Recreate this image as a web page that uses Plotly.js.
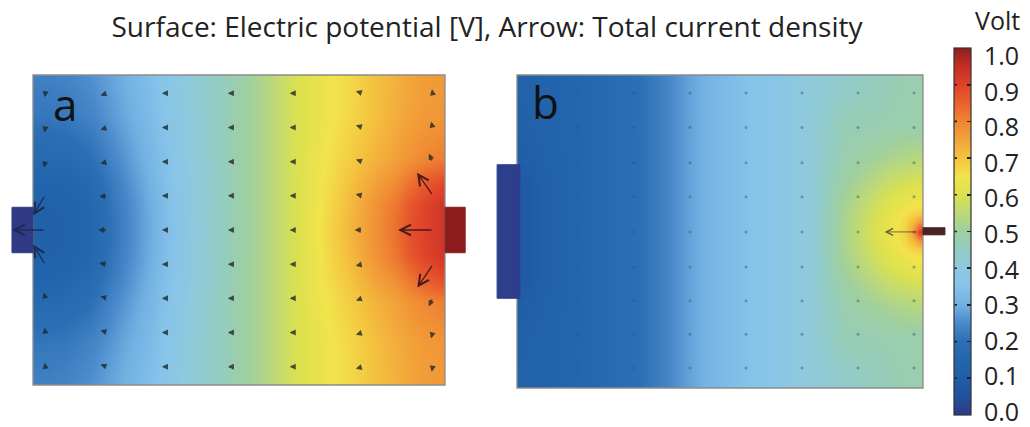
<!DOCTYPE html>
<html><head><meta charset="utf-8">
<script src="https://cdn.plot.ly/plotly-3.0.1.min.js"></script>
<style>html,body{margin:0;padding:0;background:#fff;} #chart{width:1030px;height:427px;}</style>
</head><body><div id="chart"></div>
<script>
// ---------- DATA ----------
// Panel a: electric potential [V] read on a grid (x: 0..100, y: 0..75, arbitrary length units)
const potA_x = [0,4,8,14,20,28,36,46,56,64,70,76,82,88,92,95,98,100];
const potA_y = [0,10,20,26,31,35,37.5,40,44,49,55,65,75];
const potA_row0  = [0.235,0.235,0.24,0.26,0.29,0.335,0.395,0.46,0.53,0.60,0.635,0.66,0.70,0.73,0.75,0.76,0.765,0.77];
const potA_row10 = [0.215,0.215,0.22,0.24,0.275,0.325,0.39,0.46,0.53,0.60,0.635,0.665,0.70,0.735,0.755,0.765,0.77,0.775];
const potA_row20 = [0.17,0.17,0.175,0.20,0.248,0.31,0.38,0.46,0.53,0.60,0.64,0.68,0.72,0.755,0.78,0.795,0.805,0.81];
const potA_row26 = [0.14,0.14,0.145,0.175,0.23,0.30,0.376,0.458,0.53,0.60,0.648,0.695,0.745,0.79,0.83,0.86,0.88,0.89];
const potA_row31 = [0.125,0.12,0.125,0.16,0.22,0.293,0.372,0.456,0.53,0.60,0.65,0.705,0.765,0.82,0.87,0.895,0.915,0.93];
const potA_row35 = [0.12,0.115,0.12,0.155,0.215,0.29,0.37,0.455,0.53,0.60,0.655,0.71,0.77,0.83,0.88,0.90,0.92,0.94];
const potA_z = [potA_row0,potA_row10,potA_row20,potA_row26,potA_row31,potA_row35,potA_row35,potA_row35,
                potA_row31,potA_row26,potA_row20,potA_row10,potA_row0];

// Panel b
const potB_x = [0,3,6,12,20,30,36,42,48,56,64,72,80,86,90,93,95.5,97.5,99,100];
const potB_y = [0,12,20,26,30,33,35.5,37.5,39.5,42,45,49,55,63,75];
const potB_row0  = [0.12,0.125,0.13,0.145,0.165,0.20,0.235,0.28,0.315,0.345,0.375,0.405,0.43,0.45,0.46,0.47,0.475,0.48,0.48,0.48];
const potB_row12 = [0.115,0.12,0.128,0.143,0.165,0.20,0.235,0.28,0.315,0.345,0.375,0.405,0.465,0.472,0.476,0.479,0.48,0.482,0.482,0.482];
const potB_row20 = [0.10,0.108,0.12,0.14,0.165,0.20,0.235,0.28,0.315,0.345,0.375,0.405,0.478,0.499,0.513,0.526,0.534,0.538,0.54,0.54];
const potB_row26 = [0.075,0.09,0.11,0.135,0.165,0.20,0.235,0.28,0.315,0.345,0.375,0.405,0.495,0.534,0.563,0.58,0.591,0.597,0.60,0.60];
const potB_row30 = [0.075,0.09,0.11,0.135,0.165,0.20,0.235,0.28,0.315,0.345,0.375,0.405,0.505,0.556,0.59,0.612,0.628,0.636,0.639,0.64];
const potB_row33 = [0.075,0.09,0.11,0.135,0.165,0.20,0.235,0.28,0.315,0.345,0.375,0.405,0.51,0.568,0.605,0.632,0.651,0.668,0.678,0.68];
const potB_row35 = [0.075,0.09,0.11,0.135,0.165,0.20,0.235,0.28,0.315,0.345,0.375,0.405,0.514,0.574,0.613,0.642,0.672,0.722,0.78,0.80];
const potB_row37 = [0.075,0.09,0.11,0.135,0.165,0.20,0.235,0.28,0.315,0.345,0.375,0.405,0.515,0.575,0.615,0.645,0.68,0.765,0.90,0.97];
const potB_z = [potB_row0,potB_row12,potB_row20,potB_row26,potB_row30,potB_row33,potB_row35,potB_row37,
                potB_row35,potB_row33,potB_row30,potB_row26,potB_row20,potB_row12,potB_row0];

// Arrow grid, panel a (current density direction in degrees clockwise from up, length in px; 0 = drawn as large arrow)
const arrA_u = [3,18,33,49,64,80,97];
const arrA_v = [4.4,12.7,21,29.2,37.5,45.8,54,62.3,70.6];
const arrA_angle = [
  [352,290,270,270,270,255,190],
  [350,288,270,270,270,252,195],
  [345,285,270,270,270,250,205],
  [0,278,270,270,270,258,0],
  [0,270,270,270,270,270,0],
  [0,262,270,270,270,282,0],
  [195,255,270,270,270,290,335],
  [190,252,270,270,270,288,345],
  [188,250,270,270,270,285,350]];
const arrA_len = [
  [4,7,7,7,7,7,5],
  [5,7,7,7,7,7,6],
  [6,7,7,7,7,7,9],
  [0,8,7,7,7,7,0],
  [0,9,7,7,7,8,0],
  [0,8,7,7,7,7,0],
  [6,7,7,7,7,7,9],
  [5,7,7,7,7,7,6],
  [4,7,7,7,7,7,4]];
// Large arrows near electrodes, panel a
const bigA_u = [2.9,2.9,2.9,97.1,97.1,97.1];
const bigA_v = [29.2,37.5,45.8,29.2,37.5,45.8];
const bigA_angle = [329,270,211,214,270,325];
const bigA_len = [23,33,23,28,35,28];
// Panel b arrows (tiny, shown as dots) and the large one
const dotB_u = [15,28.8,42.6,56.4,70.2,84,97.8];
const dotB_v = [4.8,12.9,20.9,29,37.4,45.8,54,62.4,70.7];
const bigB_u = [98.7];
const bigB_v = [37.4];
const bigB_angle = [270];
const bigB_len = [33];

// Electrodes [x0, x1, y0, y1] in panel units
const elecA_left = [-5.1, 0, 32, 43];
const elecA_right = [100, 104.9, 32, 43];
const elecB_left = [-4.9, 0.7, 21.5, 53.5];
const elecB_right = [100, 105.4, 36.7, 38.4];

// Colour bar
const cbTicks = [0,0.1,0.2,0.3,0.4,0.5,0.6,0.7,0.8,0.9,1.0];
const cbLabels = ['0.0','0.1','0.2','0.3','0.4','0.5','0.6','0.7','0.8','0.9','1.0'];

// ---------- LAYOUT / STYLE ----------
const W = 1030, H = 427;
const FONT = 'Open Sans, Noto Sans, sans-serif';
const domAx = [33/W, 445/W], domAy = [(H-385)/H, (H-75)/H];
const domBx = [517/W, 923/W], domBy = [(H-388)/H, (H-75)/H];
const CB_TOP = 48, CB_BOT = 415, CB_LEFT = 954, CB_W = 17;

const cscale = [
 [0.00,'#2b3a86'],[0.05,'#23509c'],[0.10,'#1f5fa8'],[0.15,'#2366ae'],[0.20,'#2b6fb5'],
 [0.25,'#4a89ca'],[0.30,'#72b0e2'],[0.35,'#86c3ea'],[0.40,'#8ec9de'],[0.45,'#93ccc3'],
 [0.50,'#9ecfa0'],[0.55,'#bdd977'],[0.60,'#dbe14f'],[0.65,'#f2e34b'],[0.70,'#f4c440'],
 [0.75,'#f2a43a'],[0.80,'#ef8533'],[0.85,'#e9622d'],[0.90,'#df4229'],[0.95,'#c42e27'],[1.00,'#8e1f20']];

function pxX(dom,u){return dom[0]+(dom[1]-dom[0])*u/100;}
function pxY(dom,v){return dom[0]+(dom[1]-dom[0])*v/75;}
function rect(domx,domy,e,fill,line){
  return {type:'rect',xref:'paper',yref:'paper',layer:'above',
    x0:pxX(domx,e[0]),x1:pxX(domx,e[1]),y0:pxY(domy,e[2]),y1:pxY(domy,e[3]),
    fillcolor:fill,line:{color:line||fill,width:1}};
}
function border(domx,domy){
  return {type:'rect',xref:'paper',yref:'paper',layer:'above',
    x0:domx[0],x1:domx[1],y0:domy[0],y1:domy[1],fillcolor:'rgba(0,0,0,0)',
    line:{color:'#8c8c8c',width:1.3}};
}
const sxA=(domAx[1]-domAx[0])*W/100, syA=(domAy[1]-domAy[0])*H/75;
const sxB=(domBx[1]-domBx[0])*W/100, syB=(domBy[1]-domBy[0])*H/75;

function arrow(xr,yr,u,v,ang,len,sx,sy,style){
  const r=ang*Math.PI/180;
  return Object.assign({xref:xr,yref:yr,axref:xr,ayref:yr,
    ax:u, ay:v, x:u+len*Math.sin(r)/sx, y:v+len*Math.cos(r)/sy,
    text:'',showarrow:true,standoff:0,startstandoff:0},style);
}

const annotations=[];
const tinyStyle={arrowhead:2,arrowsize:0.6,arrowwidth:2,arrowcolor:'rgba(30,42,38,0.8)'};
for(let i=0;i<arrA_v.length;i++){
  for(let j=0;j<arrA_u.length;j++){
    if(arrA_len[i][j]>0) annotations.push(arrow('x','y',arrA_u[j],arrA_v[i],arrA_angle[i][j],arrA_len[i][j],sxA,syA,tinyStyle));
  }
}
for(let k=0;k<bigA_u.length;k++){
  const col = bigA_u[k]<50 ? '#1e2b55' : '#4a1a1a';
  annotations.push(arrow('x','y',bigA_u[k],bigA_v[k],bigA_angle[k],bigA_len[k],sxA,syA,
    {arrowhead:5,arrowsize:1.6,arrowwidth:1.3,arrowcolor:col}));
}
for(let k=0;k<bigB_u.length;k++){
  annotations.push(arrow('x2','y2',bigB_u[k],bigB_v[k],bigB_angle[k],bigB_len[k],sxB,syB,
    {arrowhead:5,arrowsize:1.5,arrowwidth:0.9,arrowcolor:'rgba(70,60,50,0.8)'}));
}
annotations.push({xref:'x',yref:'y',x:7.8,y:68,text:'a',showarrow:false,
  font:{family:FONT,size:44,color:'#111'},xanchor:'center',yanchor:'middle'});
annotations.push({xref:'x2',yref:'y2',x:7.0,y:68.5,text:'b',showarrow:false,
  font:{family:FONT,size:44,color:'#111'},xanchor:'center',yanchor:'middle'});
annotations.push({xref:'paper',yref:'paper',x:997/W,y:1-20/H,text:'Volt',showarrow:false,
  font:{family:FONT,size:25,color:'#222'},xanchor:'center',yanchor:'middle'});
// colour-bar labels (sit a few px below their ticks, as in the reference) and left-edge tick dashes
for(let k=0;k<cbTicks.length;k++){
  const t=cbTicks[k];
  const labY = 55 + (1-t)*(411-55);
  annotations.push({xref:'paper',yref:'paper',x:982/W,y:1-labY/H,text:cbLabels[k],showarrow:false,
    font:{family:FONT,size:25,color:'#222'},xanchor:'left',yanchor:'middle'});
  if(t>0 && t<1){
    const tickY = CB_BOT - t*(CB_BOT-CB_TOP);
    annotations.push({xref:'paper',yref:'paper',x:(CB_LEFT+0.5)/W,y:1-tickY/H,ax:4,ay:0,axref:'pixel',ayref:'pixel',
      text:'',showarrow:true,arrowhead:0,arrowwidth:1.6,arrowcolor:'#222',standoff:0,startstandoff:0});
  }
}

const dotX=[],dotY=[];
for(const v of dotB_v){for(const u of dotB_u){dotX.push(u);dotY.push(v);}}

const traces=[
 {type:'heatmap',x:potA_x,y:potA_y,z:potA_z,coloraxis:'coloraxis',zsmooth:'best',xaxis:'x',yaxis:'y',hoverinfo:'skip'},
 {type:'heatmap',x:potB_x,y:potB_y,z:potB_z,coloraxis:'coloraxis',zsmooth:'best',xaxis:'x2',yaxis:'y2',hoverinfo:'skip'},
 {type:'scatter',mode:'markers',x:dotX,y:dotY,xaxis:'x2',yaxis:'y2',hoverinfo:'skip',
  marker:{size:3,color:'rgba(60,80,100,0.45)'},cliponaxis:true}
];

const layout={
  width:W,height:H,margin:{l:0,r:0,t:0,b:0},paper_bgcolor:'#fff',plot_bgcolor:'#fff',
  showlegend:false,
  title:{text:'Surface: Electric potential [V], Arrow: Total current density',
    font:{family:FONT,size:28,color:'#222'},x:487/W,xanchor:'center',y:1-27/H,yanchor:'middle'},
  xaxis:{domain:domAx,range:[0,100],visible:false,fixedrange:true},
  yaxis:{domain:domAy,range:[0,75],visible:false,fixedrange:true,anchor:'x'},
  xaxis2:{domain:domBx,range:[0,100],visible:false,fixedrange:true,anchor:'y2'},
  yaxis2:{domain:domBy,range:[0,75],visible:false,fixedrange:true,anchor:'x2'},
  coloraxis:{cmin:0,cmax:1,colorscale:cscale,
    colorbar:{thickness:CB_W,thicknessmode:'pixels',len:(CB_BOT-CB_TOP)/H,lenmode:'fraction',
      x:CB_LEFT/W,xanchor:'left',y:1-(CB_TOP+CB_BOT)/2/H,yanchor:'middle',xpad:0,ypad:0,
      outlinewidth:1.2,outlinecolor:'#333',
      ticks:'inside',ticklen:4,tickwidth:1.6,tickcolor:'#222',
      tickvals:cbTicks,showticklabels:false}},
  shapes:[
    border(domAx,domAy),border(domBx,domBy),
    rect(domAx,domAy,elecA_left,'#2f3c85'),rect(domAx,domAy,elecA_right,'#8d1d1d'),
    rect(domBx,domBy,elecB_left,'#2d3e8c'),rect(domBx,domBy,elecB_right,'#4a2222')
  ],
  annotations:annotations
};
Plotly.newPlot('chart',traces,layout,{displayModeBar:false,staticPlot:true});
</script></body></html>
